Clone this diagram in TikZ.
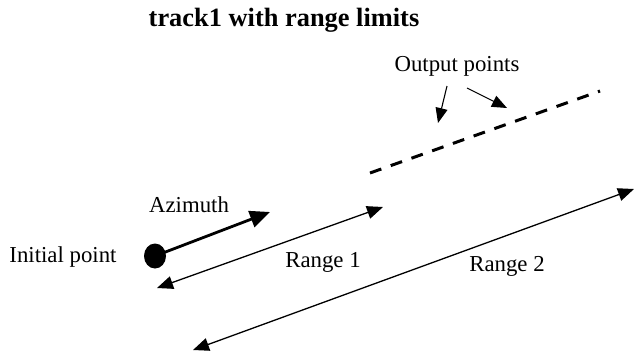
\documentclass[tikz,border=0pt]{standalone}
\usepackage{fontspec}
\setmainfont{Liberation Serif}
\usepackage{tikz}
\usetikzlibrary{arrows.meta, positioning, shapes.geometric}

\tikzset{
    lbl/.style={font=\fontsize{22.8}{26}\selectfont, inner sep=0pt},
    rangearrow/.style={{Triangle[length=16pt,width=13pt]}-{Triangle[length=16pt,width=13pt]}, line width=1.3pt},
    azarrow/.style={-{Triangle[length=20pt,width=17pt]}, line width=2.8pt},
    ptrarrow/.style={-{Triangle[length=15pt,width=12pt]}, line width=1.1pt},
    trackline/.style={dash pattern=on 12pt off 10pt, line width=3pt}
}

\begin{document}
\begin{tikzpicture}[x=1pt,y=-1pt]
            \useasboundingbox (0,0) rectangle (634,354);
            \node[font=\fontsize{26.4}{30}\selectfont\bfseries, inner sep=0pt](title) at (284,20) {track1 with range limits};
            \node[lbl](outlbl) at (457,66) {Output points};
            \node[lbl](initlbl) at (63,257) {Initial point};
            \node[lbl](azlbl) at (189,205) {Azimuth};
            \node[lbl](r1lbl) at (323,262) {Range 1};
            \node[lbl](r2lbl) at (507,266) {Range 2};
            \node[ellipse,fill,minimum width=22pt,minimum height=25pt,inner sep=0pt](init) at (155,256) {};
            \coordinate (aztip) at (270,212);
            \coordinate (r1a) at (157,288);
            \coordinate (r1b) at (383,207);
            \coordinate (r2a) at (193,350);
            \coordinate (r2b) at (634,189);
            \coordinate (trka) at (370,173);
            \coordinate (trkb) at (600,91);
            \coordinate (out1) at (447,86);
            \coordinate (out1tip) at (438,123);
            \coordinate (out2) at (467,88);
            \coordinate (out2tip) at (507,108);
            \draw[azarrow] (init.center) -- (aztip);
            \draw[rangearrow] (r1a) -- (r1b);
            \draw[rangearrow] (r2a) -- (r2b);
            \draw[trackline] (trka) -- (trkb);
            \draw[ptrarrow] (out1) -- (out1tip);
            \draw[ptrarrow] (out2) -- (out2tip);
        \end{tikzpicture}
\end{document}
